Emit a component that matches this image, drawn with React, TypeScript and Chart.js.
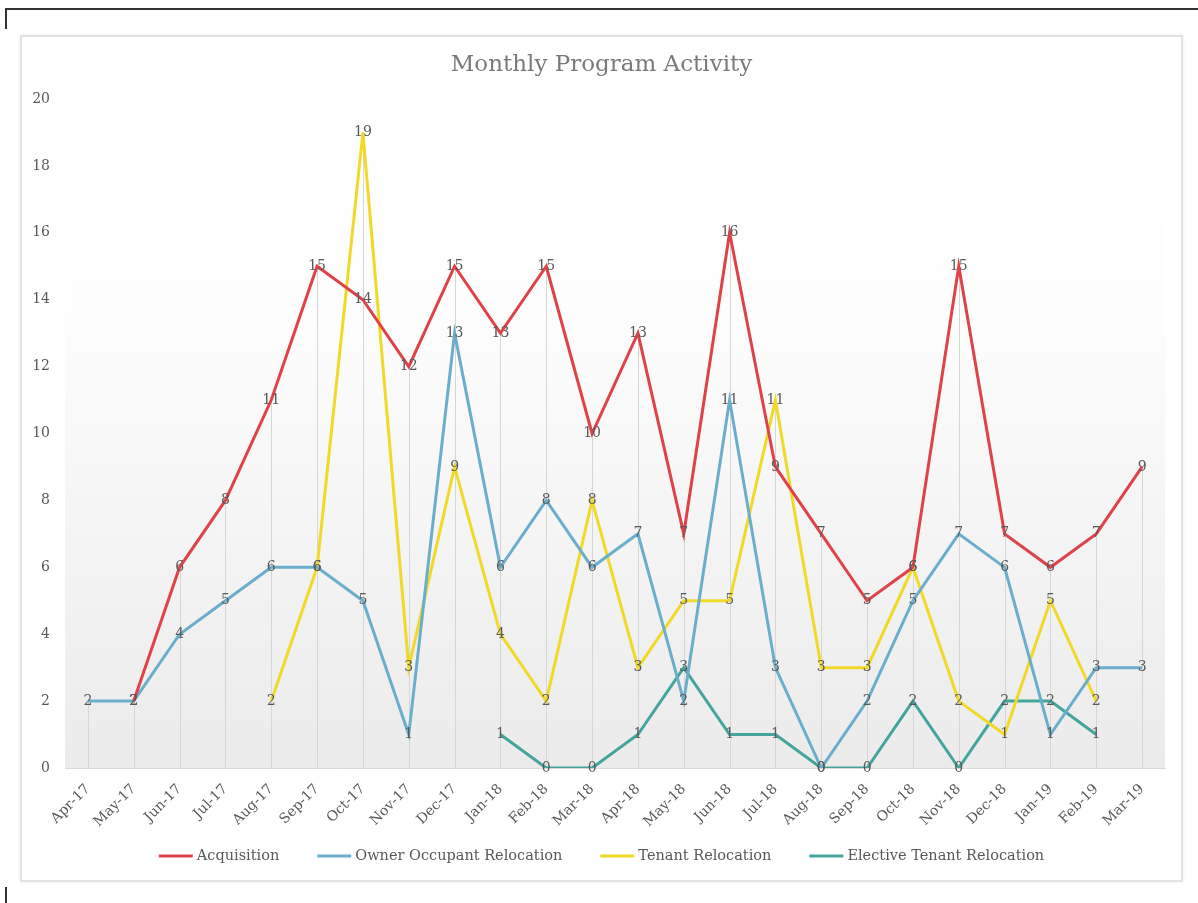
import React, { useEffect, useRef } from "react";
import { Chart, registerables } from "chart.js";

Chart.register(...registerables);

const months = [
  "Apr-17", "May-17", "Jun-17", "Jul-17", "Aug-17", "Sep-17", "Oct-17", "Nov-17",
  "Dec-17", "Jan-18", "Feb-18", "Mar-18", "Apr-18", "May-18", "Jun-18", "Jul-18",
  "Aug-18", "Sep-18", "Oct-18", "Nov-18", "Dec-18", "Jan-19", "Feb-19", "Mar-19",
];

const acquisition = [null, 2, 6, 8, 11, 15, 14, 12, 15, 13, 15, 10, 13, 7, 16, 9, 7, 5, 6, 15, 7, 6, 7, 9];
const ownerOccupant = [2, 2, 4, 5, 6, 6, 5, 1, 13, 6, 8, 6, 7, 2, 11, 3, 0, 2, 5, 7, 6, 1, 3, 3];
const tenant = [null, null, null, null, 2, 6, 19, 3, 9, 4, 2, 8, 3, 5, 5, 11, 3, 3, 6, 2, 1, 5, 2, null];
const electiveTenant = [null, null, null, null, null, null, null, null, null, 1, 0, 0, 1, 3, 1, 1, 0, 0, 2, 0, 2, 2, 1, null];

const yTicks = [0, 2, 4, 6, 8, 10, 12, 14, 16, 18, 20];

const chartTitle = "Monthly Program Activity";
const seriesNames = ["Acquisition", "Owner Occupant Relocation", "Tenant Relocation", "Elective Tenant Relocation"];
const seriesColors = ["#e0424a", "#6aaecb", "#f0d928", "#45a59d"];

const FONT = "'DejaVu Serif', serif";
const TEXT = "#595959";

const bgPlugin = {
  id: "bgGradient",
  beforeDraw(chart: any) {
    const { ctx, chartArea } = chart;
    if (!chartArea) return;
    const g = ctx.createLinearGradient(0, chartArea.top, 0, chartArea.bottom);
    g.addColorStop(0, "#ffffff");
    g.addColorStop(0.33, "#fdfdfd");
    g.addColorStop(1, "#ebebeb");
    ctx.save();
    ctx.fillStyle = g;
    ctx.fillRect(chartArea.left, chartArea.top, chartArea.right - chartArea.left, chartArea.bottom - chartArea.top);
    ctx.restore();
  },
};

const dropLinePlugin = {
  id: "dropLines",
  beforeDatasetsDraw(chart: any) {
    const { ctx, chartArea } = chart;
    const xScale = chart.scales.x;
    const yScale = chart.scales.y;
    ctx.save();
    ctx.strokeStyle = "#d6d6d6";
    ctx.lineWidth = 1;
    months.forEach((_, i) => {
      let maxV: number | null = null;
      chart.data.datasets.forEach((ds: any) => {
        const v = ds.data[i];
        if (v !== null && v !== undefined && (maxV === null || v > maxV)) maxV = v;
      });
      if (maxV === null) return;
      const x = Math.round(xScale.getPixelForValue(i)) + 0.5;
      ctx.beginPath();
      ctx.moveTo(x, yScale.getPixelForValue(maxV));
      ctx.lineTo(x, chartArea.bottom);
      ctx.stroke();
    });
    ctx.restore();
  },
};

const labelPlugin = {
  id: "valueLabels",
  afterDatasetsDraw(chart: any) {
    const { ctx } = chart;
    ctx.save();
    ctx.font = `14px ${FONT}`;
    ctx.fillStyle = TEXT;
    ctx.textAlign = "center";
    ctx.textBaseline = "middle";
    chart.data.datasets.forEach((ds: any, di: number) => {
      const meta = chart.getDatasetMeta(di);
      meta.data.forEach((pt: any, i: number) => {
        const v = ds.data[i];
        if (v === null || v === undefined) return;
        ctx.fillText(String(v), pt.x, pt.y);
      });
    });
    ctx.restore();
  },
};

const titleLegendPlugin = {
  id: "titleLegend",
  afterDraw(chart: any) {
    const { ctx, width } = chart;
    ctx.save();
    // title
    ctx.font = `23px ${FONT}`;
    ctx.fillStyle = "#7a7a7a";
    ctx.textAlign = "center";
    ctx.textBaseline = "middle";
    ctx.fillText(chartTitle, width / 2, 28);
    // legend
    ctx.font = `14.5px ${FONT}`;
    const lineW = 34;
    const gap = 4;
    const spacing = 38;
    const widths = seriesNames.map((n) => ctx.measureText(n).width);
    const total = widths.reduce((a, w) => a + lineW + gap + w, 0) + spacing * (seriesNames.length - 1);
    let x = width / 2 - total / 2;
    const y = 819;
    ctx.textAlign = "left";
    seriesNames.forEach((n, i) => {
      ctx.strokeStyle = seriesColors[i];
      ctx.lineWidth = 3;
      ctx.beginPath();
      ctx.moveTo(x, y);
      ctx.lineTo(x + lineW, y);
      ctx.stroke();
      ctx.fillStyle = TEXT;
      ctx.fillText(n, x + lineW + gap, y);
      x += lineW + gap + widths[i] + spacing;
    });
    ctx.restore();
  },
};

export default function App() {
  const canvasRef = useRef<HTMLCanvasElement | null>(null);

  useEffect(() => {
    if (!canvasRef.current) return;
    const data = [acquisition, ownerOccupant, tenant, electiveTenant];
    const chart = new Chart(canvasRef.current, {
      type: "line",
      data: {
        labels: months,
        datasets: seriesNames.map((name, i) => ({
          label: name,
          data: data[i],
          borderColor: seriesColors[i],
          backgroundColor: seriesColors[i],
          borderWidth: 3,
          pointRadius: 0,
          pointHoverRadius: 0,
          tension: 0,
          spanGaps: false,
        })),
      },
      options: {
        animation: false,
        responsive: true,
        maintainAspectRatio: false,
        layout: { padding: { left: 0, right: 16, top: 62, bottom: 52 } },
        plugins: {
          title: { display: false },
          legend: { display: false },
          tooltip: { enabled: false },
        },
        scales: {
          x: {
            offset: true,
            grid: { display: false, drawTicks: false },
            border: { display: true, color: "#d9d9d9", width: 1 },
            ticks: {
              color: TEXT,
              font: { family: FONT, size: 14 },
              maxRotation: 45,
              minRotation: 45,
              autoSkip: false,
              padding: 13,
            },
            afterFit: (s: any) => {
              s.height = 60;
            },
          },
          y: {
            min: 0,
            max: 20,
            afterBuildTicks: (s: any) => {
              s.ticks = yTicks.map((v) => ({ value: v }));
            },
            grid: { display: false, drawTicks: false },
            border: { display: false },
            ticks: {
              color: TEXT,
              font: { family: FONT, size: 14 },
              padding: 15,
            },
            afterFit: (s: any) => {
              s.width = 43;
            },
          },
        },
      },
      plugins: [bgPlugin, dropLinePlugin, labelPlugin, titleLegendPlugin],
    } as any);
    return () => chart.destroy();
  }, []);

  return (
    <div style={{ position: "relative", width: 1190, height: 895 }}>
      <div style={{ position: "fixed", left: 5, top: 8, width: 1193, height: 0, borderTop: "2px solid #333" }} />
      <div style={{ position: "fixed", left: 5, top: 8, width: 0, height: 21, borderLeft: "2px solid #333" }} />
      <div style={{ position: "fixed", left: 5, top: 887, width: 0, height: 16, borderLeft: "2px solid #333" }} />
      <div
        style={{
          position: "fixed",
          left: 20,
          top: 35,
          width: 1159,
          height: 843,
          border: "2px solid #e2e2e2",
          boxShadow: "0 0 3px rgba(0,0,0,0.08)",
          background: "#ffffff",
        }}
      >
        <div style={{ position: "relative", width: 1159, height: 843 }}>
          <canvas ref={canvasRef} />
        </div>
      </div>
    </div>
  );
}
